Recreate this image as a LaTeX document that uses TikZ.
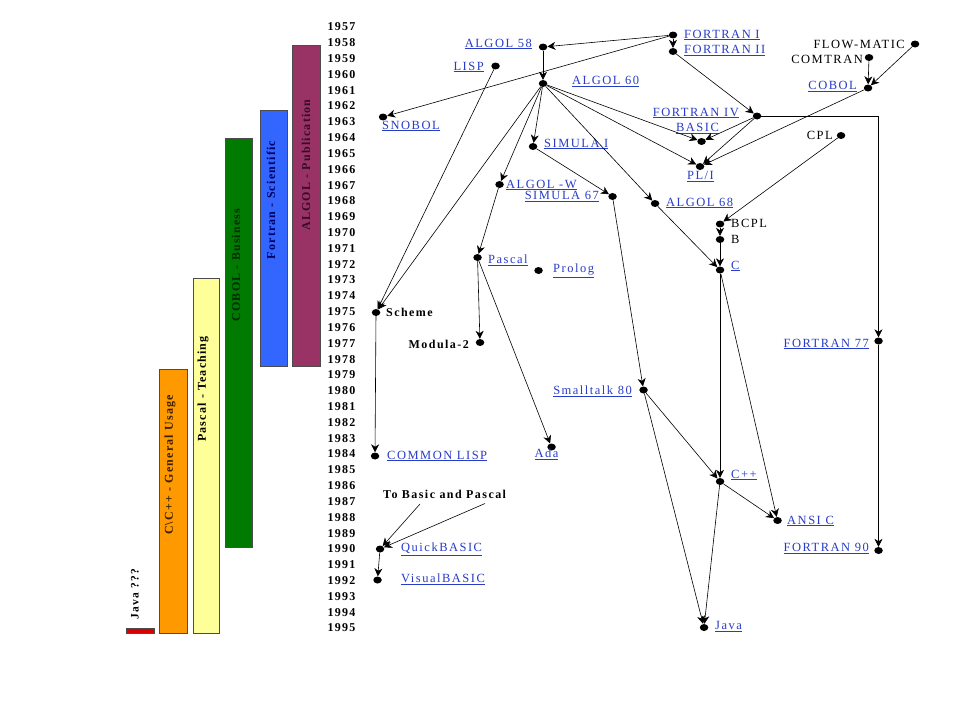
\documentclass[tikz,border=0pt]{standalone}
\usepackage{fontspec}
\setmainfont{Liberation Serif}
\newfontfamily\lblfont{Liberation Serif}[LetterSpace=12]
\newfontfamily\yrfont{Liberation Serif}[LetterSpace=10]
\newfontfamily\barfont{Liberation Serif}[LetterSpace=10]
\usetikzlibrary{arrows.meta,shapes.geometric}
\definecolor{linkblue}{RGB}{40,60,200}
\definecolor{algolc}{RGB}{153,51,102}
\definecolor{fortc}{RGB}{51,102,255}
\definecolor{cobolc}{RGB}{0,122,0}
\definecolor{pascalc}{RGB}{255,255,153}
\definecolor{cppc}{RGB}{255,153,0}
\definecolor{javac}{RGB}{221,0,0}
\definecolor{algolt}{RGB}{55,10,45}
\definecolor{fortt}{RGB}{0,0,100}
\definecolor{cobolt}{RGB}{0,45,0}
\definecolor{cppt}{RGB}{60,30,0}
\newcommand{\lnk}[1]{\underline{#1}}
\tikzset{
  dot/.style={ellipse, fill=black, inner sep=0pt, minimum width=8.5pt, minimum height=7pt},
  lbl/.style={font=\lblfont\fontsize{12.5}{13}\selectfont, inner sep=1pt, text=black},
  blbl/.style={lbl, font=\lblfont\bfseries\fontsize{12}{13}\selectfont},
  lnkl/.style={lbl, text=linkblue},
  yr/.style={font=\yrfont\bfseries\fontsize{12}{13}\selectfont, anchor=west, inner sep=0pt},
  barbox/.style={draw=black!70, line width=0.6pt},
  barlbl/.style={font=\barfont\bfseries\fontsize{12}{13}\selectfont, rotate=90, inner sep=0pt},
  edge/.style={draw, line width=0.6pt, -{Stealth[length=8pt,width=8pt,inset=2.5pt]}},
}
\begin{document}
\begin{tikzpicture}[x=1pt,y=-1pt]
\useasboundingbox (0,0) rectangle (960,720);
\fill[white] (0,0) rectangle (960,720);

% bars
\draw[barbox, fill=algolc] (292.5,45) rectangle (320,366);
\draw[barbox, fill=fortc] (260,110) rectangle (287,366);
\draw[barbox, fill=cobolc] (225.5,138.5) rectangle (252,547);
\draw[barbox, fill=pascalc] (193,278.5) rectangle (219,633);
\draw[barbox, fill=cppc] (159.5,369) rectangle (187,633);
\draw[barbox, fill=javac] (126,628) rectangle (154.5,633);

\node[barlbl, text=algolt] (lalgol) at (306,165) {ALGOL - Publication};
\node[barlbl, text=fortt] (lfort) at (271,200) {Fortran - Scientific};
\node[barlbl, text=cobolt] (lcobol) at (236,265) {COBOL - Business};
\node[barlbl, text=black] (lpascal) at (203,389) {Pascal - Teaching};
\node[barlbl, text=cppt] (lcpp) at (170,465) {C\textbackslash C++ - General Usage};
\node[barlbl, text=black, font=\lblfont\bfseries\fontsize{11.5}{12}\selectfont] (ljava) at (135,594) {Java ???};

% years
\foreach \y in {1957,...,1995} {
  \node[yr] (y\y) at (327.5,{27+(\y-1957)*15.816}) {\y};
}

% nodes (dots)
\node[dot] (fortran1) at (673,35) {};
\node[dot] (fortran2) at (673,51.5) {};
\node[dot] (algol58) at (543,47) {};
\node[dot] (lisp) at (495.5,66) {};
\node[dot] (algol60) at (543,83.5) {};
\node[dot] (snobol) at (383,117) {};
\node[dot] (flowmatic) at (915,44) {};
\node[dot] (comtran) at (869,57.5) {};
\node[dot] (cobol) at (868,88) {};
\node[dot] (fortran4) at (757,116) {};
\node[dot] (basic) at (701.5,141.5) {};
\node[dot] (pli) at (700,166.5) {};
\node[dot] (cpl) at (841,135.5) {};
\node[dot] (simula1) at (533,146.5) {};
\node[dot] (algolw) at (499.5,184.5) {};
\node[dot] (simula67) at (612.5,196.5) {};
\node[dot] (algol68) at (655,203.5) {};
\node[dot] (bcpl) at (720,224) {};
\node[dot] (b) at (720,239.5) {};
\node[dot] (c) at (720,270) {};
\node[dot] (pascal) at (477.5,257.5) {};
\node[dot] (prolog) at (538.5,270.5) {};
\node[dot] (scheme) at (376,312.5) {};
\node[dot] (modula) at (480,342.5) {};
\node[dot] (f77) at (878.5,341) {};
\node[dot] (smalltalk) at (643.5,390) {};
\node[dot] (ada) at (551.5,447) {};
\node[dot] (commonlisp) at (375,456) {};
\node[dot] (cpp) at (720,481.5) {};
\node[dot] (ansic) at (777.5,520.5) {};
\node[dot] (quickbasic) at (380,549) {};
\node[dot] (f90) at (878.5,550.5) {};
\node[dot] (visualbasic) at (377.5,580) {};
\node[dot] (java) at (704,627.5) {};

% labels
\node[lnkl, anchor=west] (tfortran1) at (683,35) {\lnk{FORTRAN I}};
\node[lnkl, anchor=west] (tfortran2) at (683,50.5) {\lnk{FORTRAN II}};
\node[lnkl, anchor=east] (talgol58) at (533,44) {\lnk{ALGOL 58}};
\node[lnkl, anchor=east] (tlisp) at (485,67) {\lnk{LISP}};
\node[lnkl, anchor=west] (talgol60) at (571,81.5) {\lnk{ALGOL 60}};
\node[lnkl, anchor=west] (tsnobol) at (381,126) {\lnk{SNOBOL}};
\node[lbl, anchor=east] (tflowmatic) at (906,44) {FLOW-MATIC};
\node[lbl, anchor=east] (tcomtran) at (864,59) {COMTRAN};
\node[lnkl, anchor=east] (tcobol) at (858,86.5) {\lnk{COBOL}};
\node[lnkl, anchor=east] (tfortran4) at (740,113) {\lnk{FORTRAN IV}};
\node[lnkl] (tbasic) at (697.5,128.5) {\lnk{BASIC}};
\node[lnkl] (tpli) at (700.5,176.5) {\lnk{PL/I}};
\node[lbl, anchor=east] (tcpl) at (834,135) {CPL};
\node[lnkl, anchor=west] (tsimula1) at (543,144) {\lnk{SIMULA I}};
\node[lnkl, anchor=west] (talgolw) at (505,185) {\lnk{ALGOL -W}};
\node[lnkl, anchor=east] (tsimula67) at (600,196.5) {\lnk{SIMULA 67}};
\node[lnkl, anchor=west] (talgol68) at (665,203) {\lnk{ALGOL 68}};
\node[lbl, anchor=west] (tbcpl) at (730,223.5) {BCPL};
\node[lbl, anchor=west] (tb) at (730,239) {B};
\node[lnkl, anchor=west] (tc) at (730,266) {\lnk{C}};
\node[lnkl, anchor=west] (tpascal) at (487,260) {\lnk{Pascal}};
\node[lnkl, anchor=west] (tprolog) at (552,271) {\lnk{Prolog}};
\node[blbl, anchor=west] (tscheme) at (385,312.5) {Scheme};
\node[blbl, anchor=east] (tmodula) at (470,344) {Modula-2};
\node[lnkl, anchor=east] (tf77) at (870,344) {\lnk{FORTRAN 77}};
\node[lnkl, anchor=east] (tsmalltalk) at (633,391) {\lnk{Smalltalk 80}};
\node[lnkl] (tada) at (546.5,454) {\lnk{Ada}};
\node[lnkl, anchor=west] (tcommonlisp) at (386,456) {\lnk{COMMON LISP}};
\node[lnkl, anchor=west] (tcpp) at (730,475) {\lnk{C++}};
\node[blbl, anchor=west] (ttbp) at (382,494.5) {To Basic and Pascal};
\node[lnkl, anchor=west] (tansic) at (786,521) {\lnk{ANSI C}};
\node[lnkl, anchor=west] (tquickbasic) at (400,549) {\lnk{QuickBASIC}};
\node[lnkl, anchor=east] (tf90) at (870,548.5) {\lnk{FORTRAN 90}};
\node[lnkl, anchor=west] (tvisualbasic) at (400,579) {\lnk{VisualBASIC}};
\node[lnkl, anchor=west] (tjava) at (714,626.5) {\lnk{Java}};

\coordinate (tb1) at (420,504);
\coordinate (tb2) at (485,503.5);

% edges
\draw[edge] (fortran1) -- (algol58);
\draw[edge] (fortran1) -- (fortran2);
\draw[edge] (fortran1) -- (snobol);
\draw[edge] (algol58) -- (algol60);
\draw[edge] (lisp) -- (scheme);
\draw[edge] (algol60) -- (scheme);
\draw[edge] (algol60) -- (simula1);
\draw[edge] (algol60) -- (algolw);
\draw[edge] (algol60) -- (algol68);
\draw[edge] (algol60) -- (basic);
\draw[edge] (algol60) -- (pli);
\draw[edge] (fortran2) -- (fortran4);
\draw[edge] (fortran4) -- (basic);
\draw[edge] (fortran4) -- (pli);
\draw[edge] (cobol) -- (pli);
\draw[edge] (flowmatic) -- (cobol);
\draw[edge] (comtran) -- (cobol);
\draw[edge] (fortran4) -| (f77);
\draw[edge] (f77) -- (f90);
\draw[edge] (cpl) -- (bcpl);
\draw[edge] (bcpl) -- (b);
\draw[edge] (b) -- (c);
\draw[edge] (algol68) -- (c);
\draw[edge] (simula1) -- (simula67);
\draw[edge] (simula67) -- (smalltalk);
\draw[edge] (algolw) -- (pascal);
\draw[edge] (pascal) -- (modula);
\draw[edge] (pascal) -- (ada);
\draw[edge] (scheme) -- (commonlisp);
\draw[edge] (smalltalk) -- (java);
\draw[edge] (smalltalk) -- (cpp);
\draw[edge] (c) -- (cpp);
\draw[edge] (c) -- (ansic);
\draw[edge] (cpp) -- (ansic);
\draw[edge] (cpp) -- (java);
\draw[edge] (tb1) -- (quickbasic);
\draw[edge] (tb2) -- (quickbasic);
\draw[edge] (quickbasic) -- (visualbasic);
\end{tikzpicture}
\end{document}
